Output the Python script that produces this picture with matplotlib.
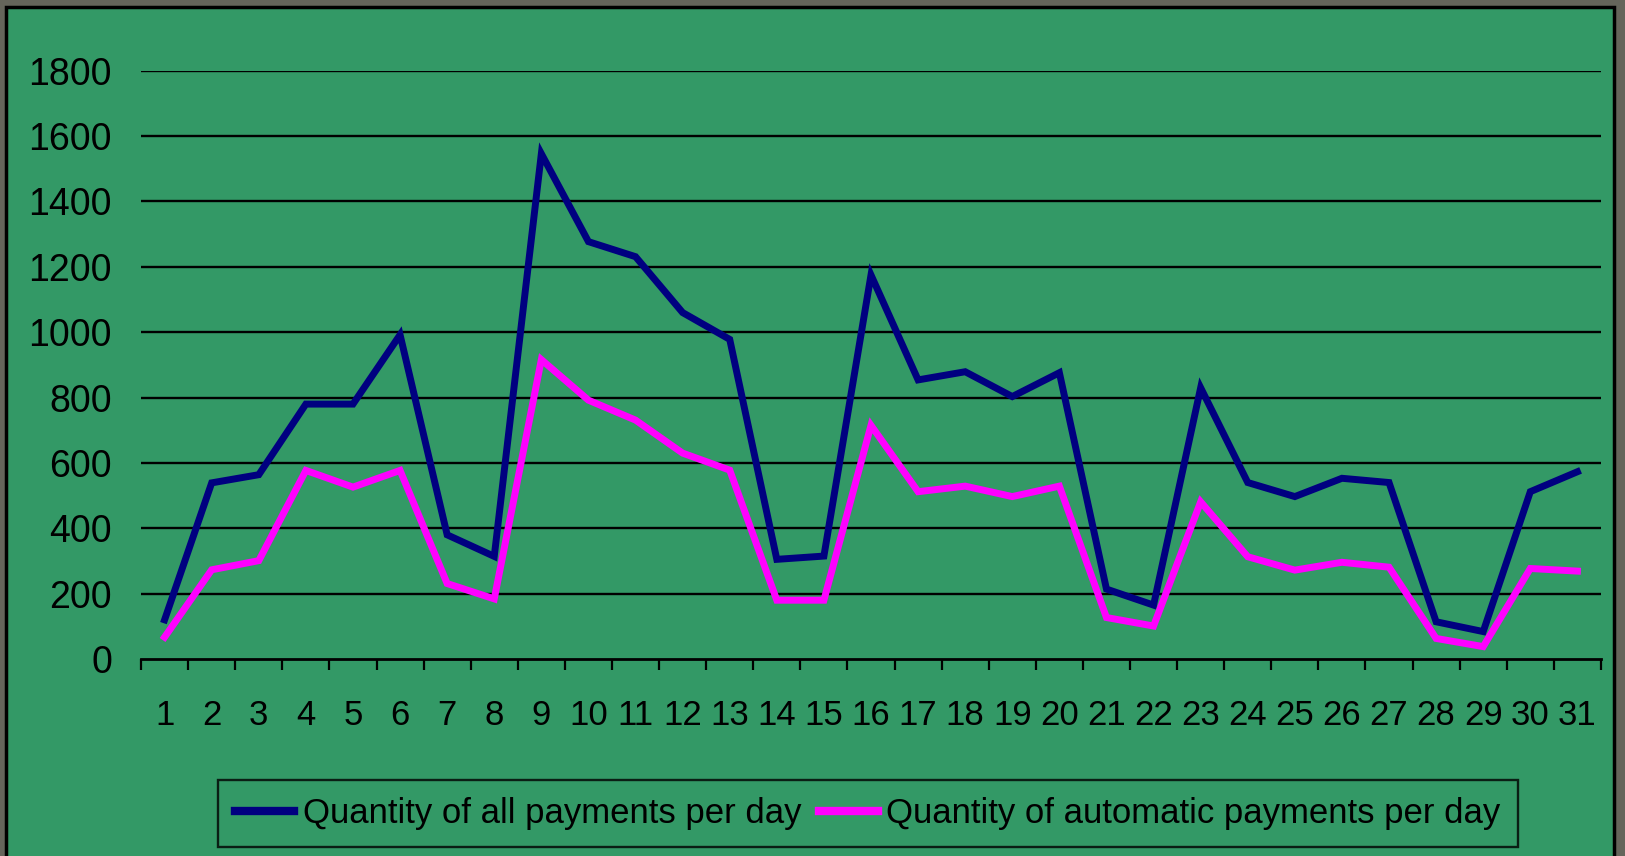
import matplotlib.pyplot as plt
from matplotlib.patches import Rectangle

days = list(range(1, 32))
all_payments = [120, 539, 564, 780, 780, 992, 380, 314, 1546, 1277, 1231, 1060, 978, 305, 315,
                1175, 854, 879, 803, 876, 214, 165, 830, 540, 497, 553, 540, 114, 84, 512, 573]
auto_payments = [67, 273, 301, 577, 526, 577, 231, 184, 916, 792, 731, 630, 578, 180, 180,
                 715, 512, 529, 497, 529, 127, 101, 481, 313, 272, 296, 281, 63, 38, 277, 269]
yticks = [0, 200, 400, 600, 800, 1000, 1200, 1400, 1600, 1800]

plt.rcParams['font.family'] = ['Liberation Sans Narrow', 'Liberation Sans', 'DejaVu Sans']

fig = plt.figure(figsize=(16.25, 8.56), dpi=100, facecolor='#65655b')
# green chart area with black border
fig.patches.append(Rectangle((6/1625, -0.05), 1608/1625, 1.05 - 7/856, transform=fig.transFigure,
                             facecolor='#339966', edgecolor='black', linewidth=2.5, zorder=-5))

ax = fig.add_axes([0.0868, 0.2301, 0.8984, 0.6873])
ax.set_facecolor('none')

ax.plot(days, all_payments, color='#000080', lw=5, solid_joinstyle='miter',
        label='Quantity of all payments per day', zorder=3)
ax.plot(days, auto_payments, color='#ff00ff', lw=5, solid_joinstyle='miter',
        label='Quantity of automatic payments per day', zorder=3)

ax.set_xlim(0.5, 31.5)
ax.set_ylim(0, 1800)
ax.set_yticks(yticks)
ax.set_yticklabels([str(v) for v in yticks], fontsize=27)
ax.tick_params(axis='y', length=0, pad=21)
for v in yticks[1:]:
    ax.axhline(v, color='black', lw=1.7, zorder=1)

ax.set_xticks([d + 0.5 for d in range(0, 32)])
ax.set_xticklabels([])
ax.set_xticks(days, minor=True)
ax.set_xticklabels([str(d) for d in days], minor=True, fontsize=25)
ax.tick_params(axis='x', which='major', direction='out', length=8, width=1.6, color='black')
ax.tick_params(axis='x', which='minor', length=0, pad=29)

for s in ['top', 'right', 'left']:
    ax.spines[s].set_visible(False)
ax.spines['bottom'].set_linewidth(2)
ax.spines['bottom'].set_zorder(4)

leg = fig.legend(loc='center', bbox_to_anchor=(0.534, 0.0497), ncol=2, fontsize=25,
                 frameon=True, fancybox=False, edgecolor='black', facecolor='none',
                 handlelength=1.7, handletextpad=0.25, columnspacing=0.5,
                 borderpad=0.5, borderaxespad=0)
leg.get_frame().set_linewidth(1.7)
for line in leg.get_lines():
    line.set_linewidth(6)

fig.savefig('out.png', dpi=100, facecolor=fig.get_facecolor())
